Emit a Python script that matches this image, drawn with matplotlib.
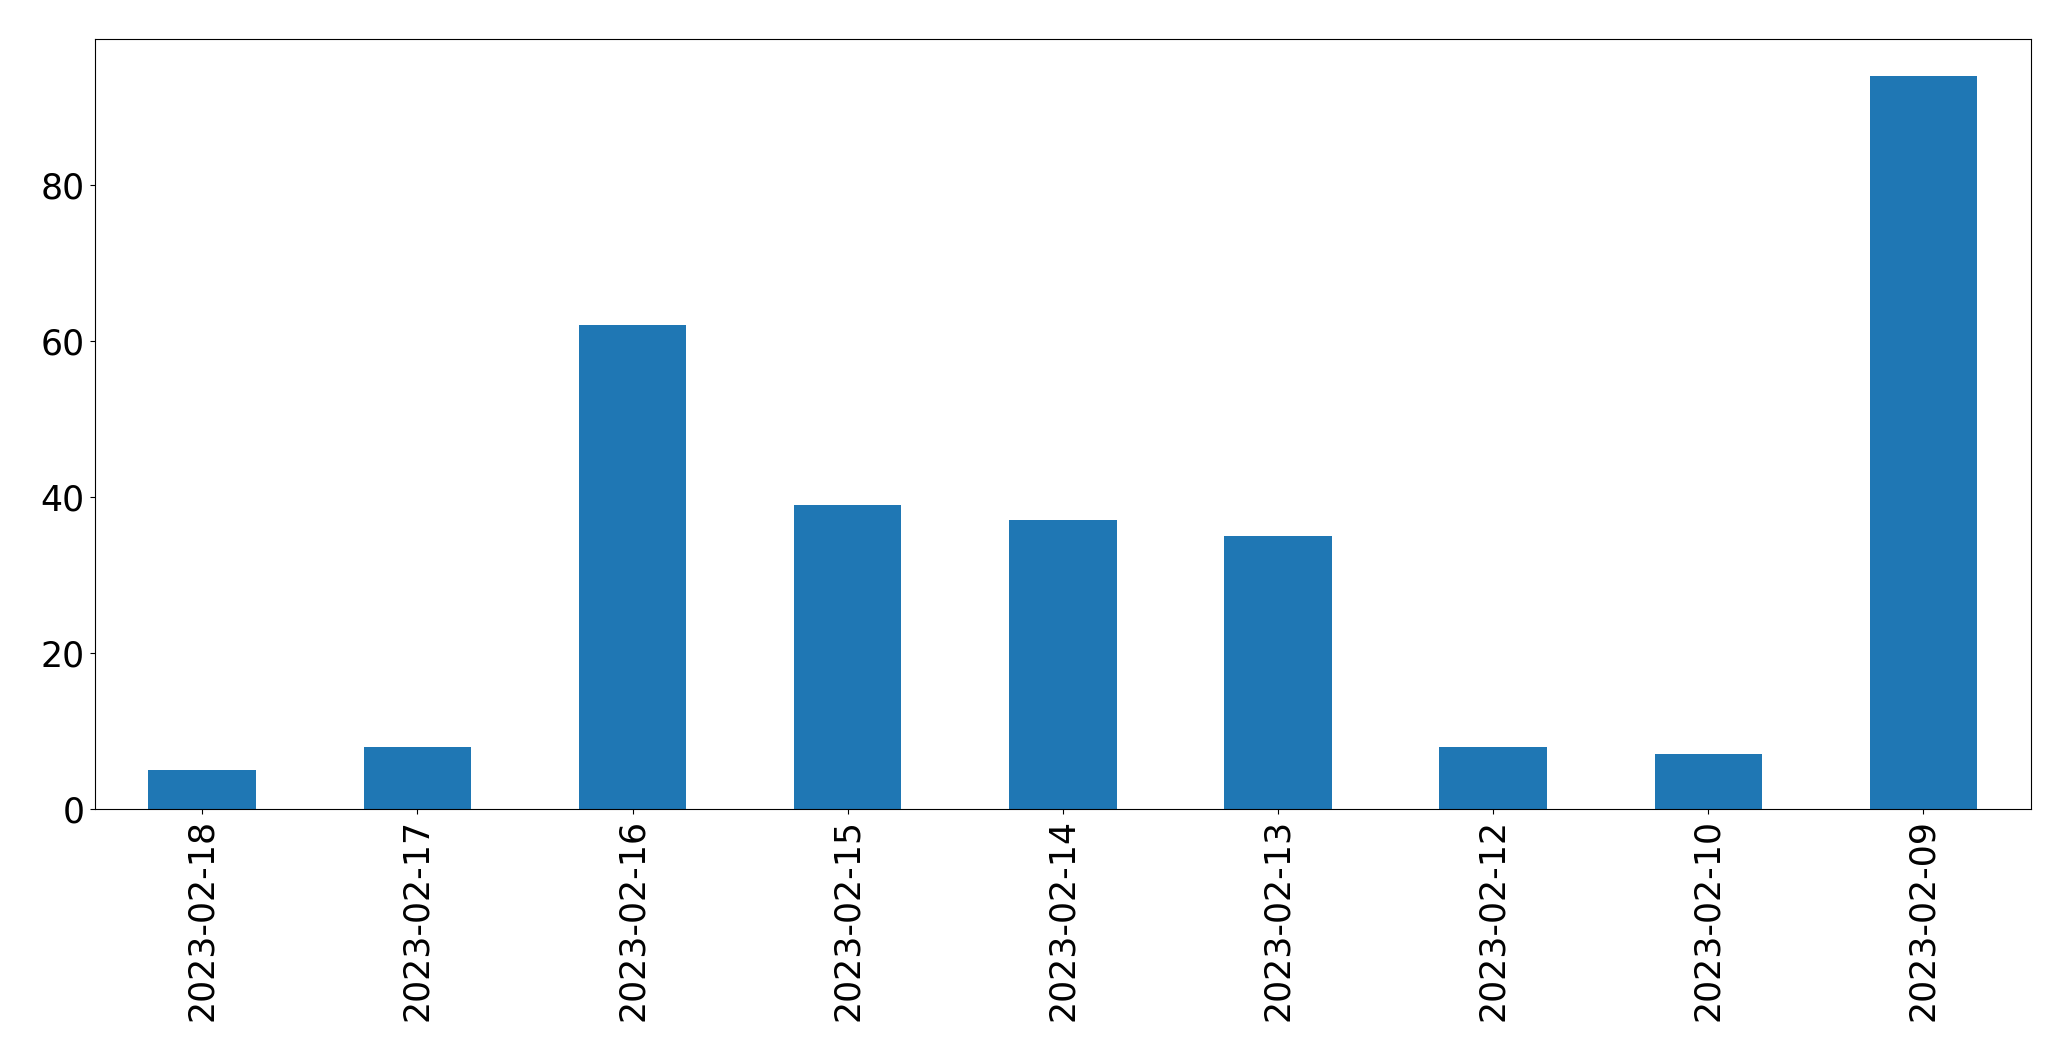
import matplotlib
matplotlib.use("Agg")
import matplotlib.pyplot as plt

# counts per day, newest first
dates = ['2023-02-18', '2023-02-17', '2023-02-16', '2023-02-15', '2023-02-14',
         '2023-02-13', '2023-02-12', '2023-02-10', '2023-02-09']
counts = [5, 8, 62, 39, 37, 35, 8, 7, 94]

fig = plt.figure(figsize=(20.71, 10.61), dpi=100)
ax = fig.add_axes([0.0457, 0.2375, 0.935, 0.7255])

x = range(len(dates))
ax.bar(x, counts, width=0.5, color='#1f77b4')
ax.set_xticks(list(x))
ax.set_xticklabels(dates, rotation=90)
ax.set_xlim(-0.5, len(dates) - 0.5)
ax.set_ylim(0, max(counts) * 1.05)
ax.tick_params(labelsize=25)

fig.savefig('out.png', dpi=100)
